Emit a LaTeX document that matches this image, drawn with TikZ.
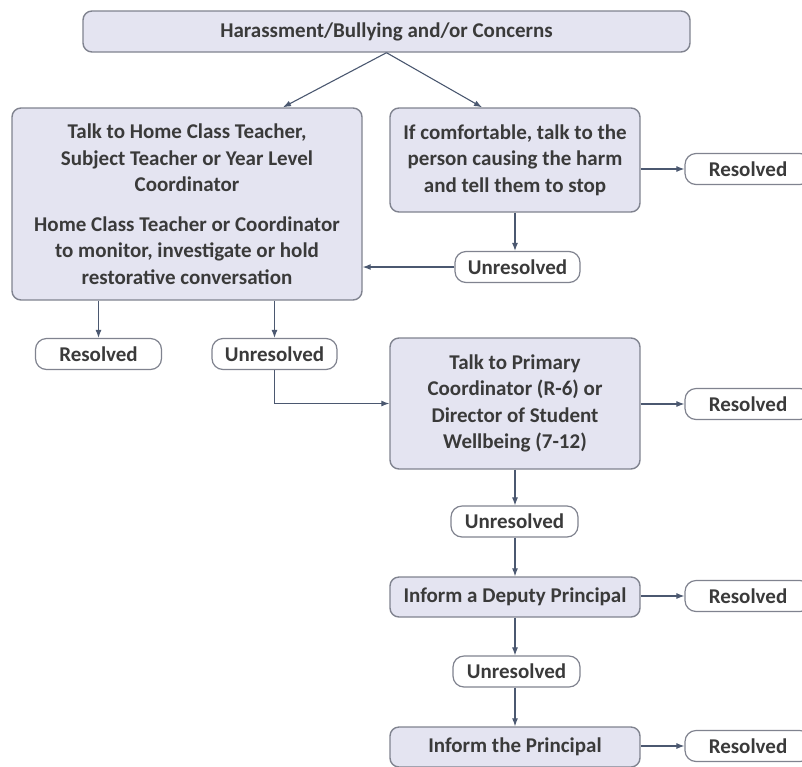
\documentclass[tikz,border=0pt]{standalone}
\usepackage{fontspec}
\setmainfont{Carlito}
\usetikzlibrary{arrows.meta}
\definecolor{boxfill}{HTML}{E4E4F1}
\definecolor{boxline}{HTML}{80838F}
\definecolor{arrowline}{HTML}{4B5870}
\definecolor{textgrey}{HTML}{3A3A3A}

\begin{document}
\begin{tikzpicture}[x=1pt,y=-1pt,
  stepbox/.style={draw=boxline,line width=1.4pt,fill=boxfill,rounded corners=9pt,align=center,inner sep=0pt,text=textgrey,font=\fontsize{21}{26.5}\selectfont\bfseries},
  outcome/.style={draw=boxline,line width=1.2pt,fill=white,rounded corners=11pt,minimum width=126pt,minimum height=31pt,inner sep=0pt,text=textgrey,font=\fontsize{21}{26.5}\selectfont\bfseries},
  flow/.style={draw=arrowline,line width=1.1pt,-{Latex[length=8pt,width=6pt]}}]
\useasboundingbox (0,0) rectangle (802,766);

\node[stepbox,minimum width=607pt,minimum height=41pt] (concern) at (386.5,31.5) {Harassment/Bullying and/or Concerns};

\node[stepbox,minimum width=350pt,minimum height=192pt] (talk) at (187,204) {Talk to Home Class Teacher,\\ Subject Teacher or Year Level\\ Coordinator\\[13pt] Home Class Teacher or Coordinator\\ to monitor, investigate or hold\\ restorative conversation};
\node[stepbox,minimum width=250pt,minimum height=104pt] (comfort) at (515,160) {If comfortable, talk to the\\ person causing the harm\\ and tell them to stop};
\node[outcome] (res1) at (748,169) {Resolved};
\node[outcome,minimum width=125pt] (unres1) at (517.5,267) {Unresolved};

\node[outcome] (resL) at (98.5,354) {Resolved};
\node[outcome,minimum width=125pt] (unresL) at (274.5,354) {Unresolved};

\node[stepbox,minimum width=250pt,minimum height=131pt] (primary) at (515,403.5) {Talk to Primary\\ Coordinator (R-6) or\\ Director of Student\\ Wellbeing (7-12)};
\node[outcome] (res2) at (748,404) {Resolved};
\node[outcome,minimum width=127pt] (unres2) at (514.5,521.5) {Unresolved};

\node[stepbox,minimum width=250pt,minimum height=40pt] (deputy) at (515,597) {Inform a Deputy Principal};
\node[outcome] (res3) at (748,596) {Resolved};
\node[outcome,minimum width=127pt] (unres3) at (516.5,671.5) {Unresolved};

\node[stepbox,minimum width=250pt,minimum height=40pt] (principal) at (515,747) {Inform the Principal};
\node[outcome] (res4) at (748,746) {Resolved};

% from the concern to both first steps
\draw[flow] (concern.south) -- ([xshift=96pt]talk.north);
\draw[flow] (concern.south) -- ([xshift=-33pt]comfort.north);

\draw[flow] (comfort.east |- res1) -- (res1.west);
\draw[flow] (comfort.south) -- (comfort.south |- unres1.north);
\draw[flow] (unres1.west) -- (unres1.west -| talk.east);

\draw[flow] (resL.north |- talk.south) -- (resL.north);
\draw[flow] (unresL.north |- talk.south) -- (unresL.north);
\draw[flow] (unresL.south) |- (primary.west);

\draw[flow] (primary.east |- res2) -- (res2.west);
\draw[flow] (primary.south) -- (primary.south |- unres2.north);
\draw[flow] (deputy.north |- unres2.south) -- (deputy.north);
\draw[flow] (deputy.east |- res3) -- (res3.west);
\draw[flow] (deputy.south) -- (deputy.south |- unres3.north);
\draw[flow] (principal.north |- unres3.south) -- (principal.north);
\draw[flow] (principal.east |- res4) -- (res4.west);
\end{tikzpicture}
\end{document}
